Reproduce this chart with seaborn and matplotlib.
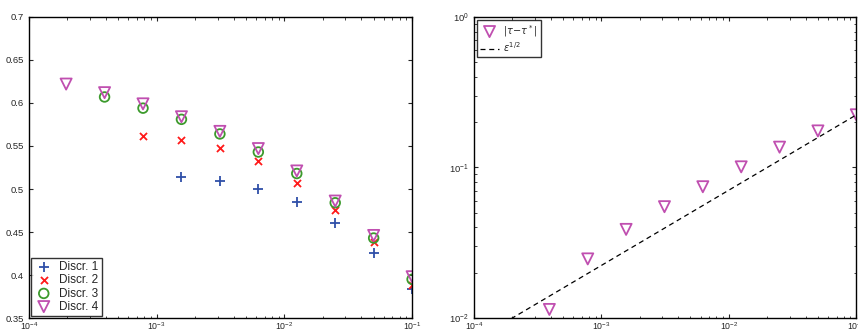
import matplotlib
matplotlib.use("Agg")
import matplotlib.pyplot as plt
import matplotlib.ticker as mticker
import seaborn as sns

# step sizes epsilon (halving from 1e-1)
eps = [1e-1, 5e-2, 2.5e-2, 1.25e-2, 6.25e-3, 3.125e-3, 1.5625e-3, 7.8125e-4, 3.90625e-4, 1.953125e-4]

# left panel: one value per discretisation (finer ones reach smaller eps)
discr1 = [0.384, 0.426, 0.460, 0.485, 0.500, 0.509, 0.514]
discr2 = [0.388, 0.438, 0.476, 0.507, 0.532, 0.548, 0.557, 0.562]
discr3 = [0.395, 0.443, 0.484, 0.518, 0.543, 0.564, 0.581, 0.594, 0.607]
discr4 = [0.398, 0.446, 0.486, 0.521, 0.547, 0.567, 0.584, 0.599, 0.612, 0.622]

# right panel: error |tau - tau*| and the eps^(1/2) guide line
err = [0.224, 0.175, 0.1365, 0.101, 0.0745, 0.0549, 0.0388, 0.0247, 0.0114]
guide_x = [1.953125e-4, 1e-1]
guide_y = [0.00988, 0.2236]

sns.set_style("ticks")
plt.rcParams["font.family"] = ["Liberation Sans", "DejaVu Sans"]
plt.rcParams.update({
    "xtick.direction": "in", "ytick.direction": "in",
    "xtick.top": True, "ytick.right": True,
    "xtick.labelsize": 6.3, "ytick.labelsize": 6.8,
    "xtick.major.pad": 2.0,
    "axes.linewidth": 1.0, "axes.edgecolor": "black",
    "xtick.major.size": 3, "ytick.major.size": 3,
    "xtick.minor.size": 1.8, "ytick.minor.size": 1.8,
    "mathtext.fontset": "dejavusans",
})

fig = plt.figure(figsize=(8.58, 3.33), dpi=100)
ax1 = fig.add_axes([0.0338, 0.045, 0.4465, 0.904])
ax2 = fig.add_axes([0.5524, 0.045, 0.4456, 0.904])

blue = "#2f4fa8"
red = "#ff1a1a"
green = "#3c9a2c"
magenta = "#c04fb0"

sns.scatterplot(x=eps[:len(discr1)], y=discr1, marker="+", s=50, color=blue,
                linewidth=1.3, label="Discr. 1", ax=ax1, legend=False)
sns.scatterplot(x=eps[:len(discr2)], y=discr2, marker="x", s=26, color=red,
                linewidth=1.3, label="Discr. 2", ax=ax1, legend=False)
sns.scatterplot(x=eps[:len(discr3)], y=discr3, marker="o", s=48, facecolor="none",
                edgecolor=green, linewidth=1.3, label="Discr. 3", ax=ax1, legend=False)
sns.scatterplot(x=eps[:len(discr4)], y=discr4, marker="v", s=64, facecolor="none",
                edgecolor=magenta, linewidth=1.3, label="Discr. 4", ax=ax1, legend=False)

ax1.set_xscale("log")
ax1.set_xlim(1e-4, 1e-1)
ax1.set_ylim(0.35, 0.7)
ax1.set_yticks([0.35, 0.4, 0.45, 0.5, 0.55, 0.6, 0.65, 0.7])
ax1.yaxis.set_major_formatter(mticker.FuncFormatter(lambda v, p: f"{v:g}"))
leg1 = ax1.legend(loc="lower left", fontsize=8.5, frameon=True, fancybox=False,
                  borderpad=0.3, labelspacing=0.1, handletextpad=0.5,
                  borderaxespad=0.15, handlelength=1.6)
leg1.get_frame().set_edgecolor("black")
leg1.get_frame().set_linewidth(1.0)

sns.scatterplot(x=eps[:len(err)], y=err, marker="v", s=64, facecolor="none",
                edgecolor=magenta, linewidth=1.3, label=r"$|\tau\!-\!\tau^*|$",
                ax=ax2, legend=False)
sns.lineplot(x=guide_x, y=guide_y, color="black", linestyle=(0, (4, 3)),
             linewidth=0.9, label=r"$\varepsilon^{1/2}$", ax=ax2, legend=False)

ax2.set_xscale("log")
ax2.set_yscale("log")
ax2.set_xlim(1e-4, 1e-1)
ax2.set_ylim(1e-2, 1e0)
leg2 = ax2.legend(loc="upper left", fontsize=7, frameon=True, fancybox=False,
                  borderpad=0.3, labelspacing=0.2, handletextpad=0.4,
                  borderaxespad=0.3, handlelength=2.0)
leg2.get_frame().set_edgecolor("black")
leg2.get_frame().set_linewidth(1.0)

for ax in (ax1, ax2):
    ax.tick_params(which="both", top=True, right=True, direction="in")
    ax.xaxis.set_minor_locator(mticker.LogLocator(base=10, subs=range(2, 10)))
    ax.set_xlabel("")
    ax.set_ylabel("")
ax2.yaxis.set_minor_locator(mticker.LogLocator(base=10, subs=range(2, 10)))

fig.savefig("out.png", dpi=100)
